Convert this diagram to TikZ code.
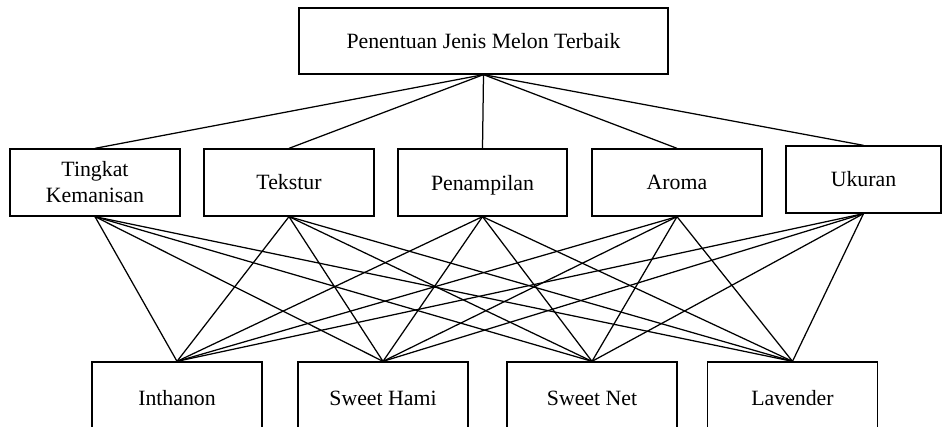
\documentclass[tikz,border=0pt]{standalone}
\usepackage{fontspec}
\setmainfont{Liberation Serif}
\begin{document}
\begin{tikzpicture}[x=1pt,y=-1pt,
  box/.style={draw, line width=1.3pt, inner sep=0pt, minimum width=170pt, minimum height=67pt, align=center, font=\fontsize{21.8}{26}\selectfont},
  link/.style={line width=1.25pt}]
\useasboundingbox (0,0) rectangle (944,427);
\clip (0,0) rectangle (944,427);
\fill[white] (0,0) rectangle (944,427);
\node[box, minimum width=369pt, minimum height=66pt] (goal) at (483.5,41) {\raisebox{0pt}[\height][0pt]{Penentuan Jenis Melon Terbaik}};
\node[box] (c1) at (95,182.5) {Tingkat\\Kemanisan};
\node[box] (c2) at (289,182.5) {Tekstur};
\node[box, minimum width=169pt] (c3) at (482.5,182.5) {\raisebox{0pt}[\height][0pt]{Penampilan}};
\node[box] (c4) at (677,182.5) {Aroma};
\node[box, minimum width=155pt] (c5) at (863.5,179.5) {Ukuran};
\node[box, minimum height=72pt] (a1) at (177,398) {Inthanon};
\node[box, minimum height=72pt] (a2) at (383,398) {Sweet Hami};
\node[box, minimum height=72pt] (a3) at (592,398) {Sweet Net};
\node[box, minimum height=72pt] (a4) at (792.5,398) {Lavender};
\foreach \c in {c1,c2,c3,c4,c5} {
  \draw[link] (goal.south) -- (\c.north);
  \foreach \a in {a1,a2,a3,a4} {
    \draw[link] (\c.south) -- (\a.north);
  }
}
\end{tikzpicture}
\end{document}
